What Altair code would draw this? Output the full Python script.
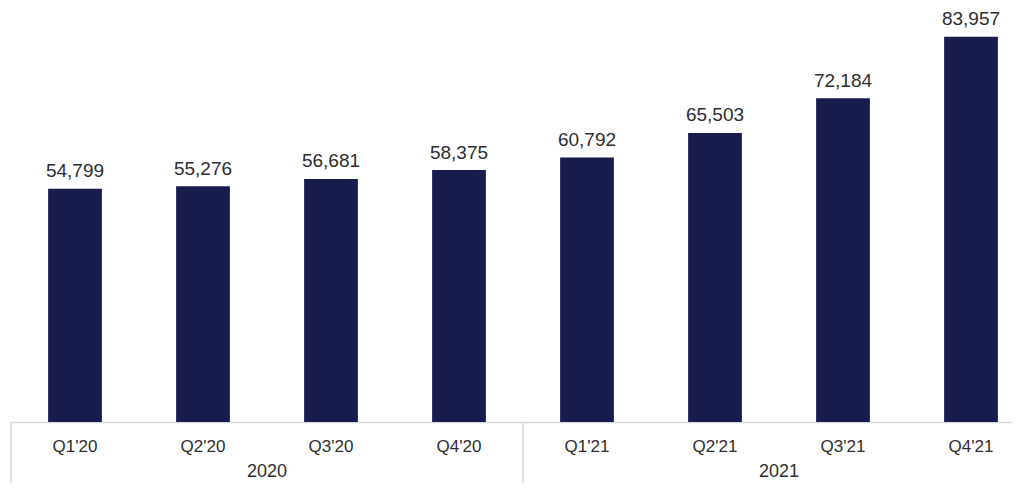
import altair as alt
import pandas as pd

quarters = ["Q1'20", "Q2'20", "Q3'20", "Q4'20", "Q1'21", "Q2'21", "Q3'21", "Q4'21"]
values = [54799, 55276, 56681, 58375, 60792, 65503, 72184, 83957]
years = ["2020", "2020", "2020", "2020", "2021", "2021", "2021", "2021"]
year_groups = ["2020", "2021"]

df = pd.DataFrame({"quarter": quarters, "value": values, "year": years})
df["label"] = [f"{v:,}" for v in values]
ydf = pd.DataFrame({"year": year_groups})

W = 1001
H = 414
BOTTOM = 61
FONT = "Liberation Sans"
TEXT_COLOR = "#2e2e2e"
LINE_COLOR = "#d9d9d9"
BAR_COLOR = "#171c4d"

qscale = alt.Scale(range=[0, 1024], paddingInner=0.58, paddingOuter=0.29)
yscale = alt.Scale(range=[0, 1024], paddingInner=0, paddingOuter=0)

xq_axis = alt.X(
    "quarter:N",
    sort=quarters,
    scale=qscale,
    axis=alt.Axis(
        title=None,
        ticks=False,
        tickSize=0,
        labelAngle=0,
        labelFont=FONT,
        labelFontSize=17,
        labelColor=TEXT_COLOR,
        labelPadding=29,
        labelBaseline="alphabetic",
        domainColor=LINE_COLOR,
        domainWidth=1.5,
        grid=False,
    ),
)
xq_plain = alt.X("quarter:N", sort=quarters, scale=qscale, axis=None)
yv = alt.Y(
    "value:Q",
    scale=alt.Scale(domain=[10000, 89500], zero=False, nice=False),
    axis=None,
)

bars = alt.Chart(df).mark_bar(color=BAR_COLOR).encode(
    x=xq_axis, y=yv, y2=alt.datum(10000)
)

labels = alt.Chart(df).mark_text(
    font=FONT, fontSize=19, color=TEXT_COLOR, baseline="alphabetic", dy=-11.5
).encode(x=xq_plain, y=yv, text="label:N")

seps = alt.Chart(ydf).mark_rule(color=LINE_COLOR, strokeWidth=1.5).encode(
    x=alt.X("year:N", sort=year_groups, scale=yscale, axis=None, bandPosition=0),
    y=alt.value(H),
    y2=alt.value(H + BOTTOM),
)

year_text = alt.Chart(ydf).mark_text(
    font=FONT, fontSize=18, color=TEXT_COLOR, baseline="alphabetic"
).encode(
    x=alt.X("year:N", sort=year_groups, scale=yscale, axis=None),
    y=alt.value(H + 55),
    text="year:N",
)

chart = (
    alt.layer(bars, labels, seps, year_text)
    .resolve_scale(x="independent")
    .properties(
        width=W,
        height=H,
        autosize=alt.AutoSizeParams(type="none"),
        padding={"left": 3, "top": 0, "right": 0, "bottom": BOTTOM},
        background="white",
    )
    .configure_view(stroke=None)
)

chart.save("out.html", embed_options={"renderer": "svg", "actions": False})
